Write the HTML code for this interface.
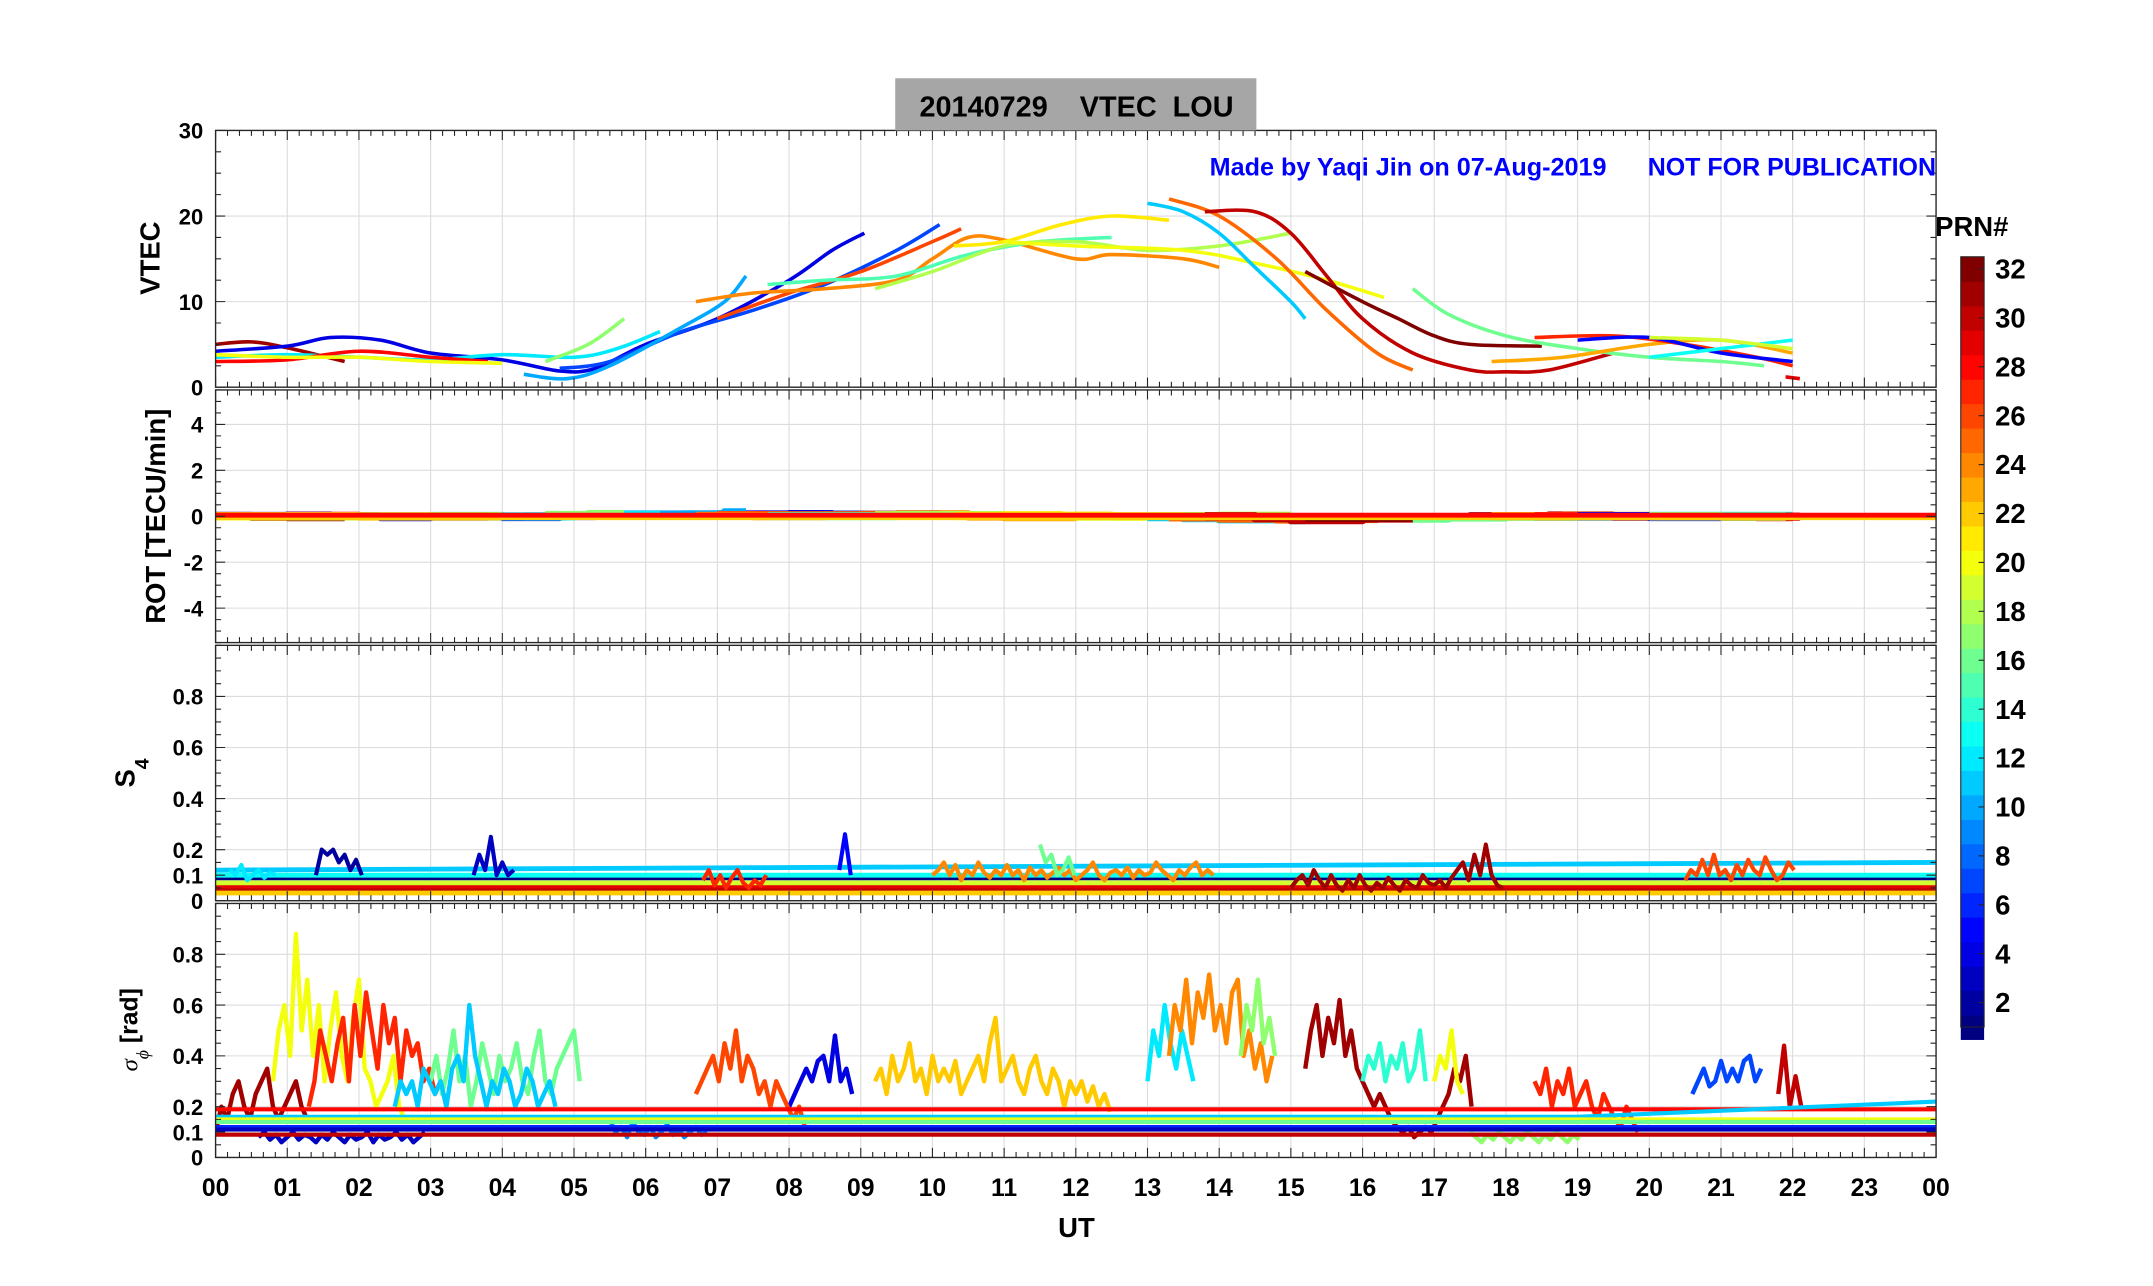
<!DOCTYPE html>
<html><head><meta charset="utf-8"><style>
html,body{margin:0;padding:0;background:#fff;}
svg{display:block;}
text{font-family:"Liberation Sans",sans-serif;font-weight:bold;}
</style></head><body>
<svg id="chart" width="2153" height="1286" viewBox="0 0 1568 936.6" preserveAspectRatio="none" xmlns="http://www.w3.org/2000/svg">
<rect x="0" y="0" width="1568" height="936.6" fill="#fff"/>
<defs>
<clipPath id="c1"><rect x="157" y="95" width="1253" height="187"/></clipPath>
<clipPath id="c2"><rect x="157" y="284" width="1253" height="184"/></clipPath>
<clipPath id="c3"><rect x="157" y="470" width="1253" height="186"/></clipPath>
<clipPath id="c4"><rect x="157" y="658" width="1253" height="185"/></clipPath>
</defs>
<g id="grids"></g>
<g id="marks"></g>
<g id="frames"></g>
<rect x="652" y="57" width="263" height="38" fill="#a6a6a6"/>
<text x="784" y="85" font-size="21" text-anchor="middle" xml:space="preserve">20140729    VTEC  LOU</text>
<text x="881" y="128" font-size="18" fill="#0000ff" textLength="289" lengthAdjust="spacingAndGlyphs">Made by Yaqi Jin on 07-Aug-2019</text>
<text x="1200" y="128" font-size="18" fill="#0000ff" textLength="210" lengthAdjust="spacingAndGlyphs">NOT FOR PUBLICATION</text>
<text x="784" y="901" font-size="20" text-anchor="middle">UT</text>
<text transform="translate(116,188) rotate(-90)" font-size="20" text-anchor="middle">VTEC</text>
<text transform="translate(120,376) rotate(-90)" font-size="20" text-anchor="middle">ROT [TECU/min]</text>
<text transform="translate(98,563) rotate(-90)" font-size="20" text-anchor="middle">S<tspan font-size="14" dy="10">4</tspan></text>
<text transform="translate(100,750) rotate(-90)" font-size="18" text-anchor="middle"><tspan font-style="italic" font-weight="normal" font-family="Liberation Serif,serif">σ</tspan><tspan font-size="13" dy="8" font-style="italic" font-weight="normal" font-family="Liberation Serif,serif">ϕ</tspan><tspan dy="-8"> [rad]</tspan></text>
<text x="1436" y="172" font-size="20" text-anchor="middle">PRN#</text>
<g id="cbar"></g>
</svg>
<script>
// ---------- data ----------
const hours = [0,1,2,3,4,5,6,7,8,9,10,11,12,13,14,15,16,17,18,19,20,21,22,23,24];
const hourLabels = ["00","01","02","03","04","05","06","07","08","09","10","11","12","13","14","15","16","17","18","19","20","21","22","23","00"];
const vtecTicks = [0,10,20,30];
const rotTicks = [-4,-2,0,2,4];
const s4Ticks = [0,0.1,0.2,0.4,0.6,0.8];
const sigTicks = [0,0.1,0.2,0.4,0.6,0.8];
const cbarTicks = [2,4,6,8,10,12,14,16,18,20,22,24,26,28,30,32];

// VTEC arcs: PRN and [hour, TECU] points
const vtecPrn = [31,4,7,10,12,17,26,24,15,18,21,20,11,25,30,32,16,23,27,5,13,19,29,28,20];
const vtecPts = [
 [[0,5],[0.5,5.3],[1,4.6],[1.8,3]],
 [[0,4.2],[1,4.8],[1.6,5.8],[2.3,5.5],[3,4],[4,3.2],[4.8,1.9],[5.3,2.2],[6,5],[7,8],[8,12.5],[8.6,16],[9.05,18]],
 [[4.8,2.2],[5.5,3],[6.5,6.5],[7.5,9],[8.5,12],[9.5,16],[10.1,19]],
 [[4.3,1.5],[4.9,1],[5.5,2.5],[6.5,7],[7.1,10],[7.4,13]],
 [[0,3.5],[1,3.8],[2,3.5],[3,3.2],[4,3.8],[5,3.5],[5.6,4.5],[6.2,6.5]],
 [[4.6,3],[5.2,5],[5.7,8]],
 [[7,8],[8,11],[9,13.5],[10,17],[10.4,18.5]],
 [[6.7,10],[7.5,11],[8.5,11.5],[9.5,12.5],[10,15],[10.5,17.5],[11,17.2],[12,15],[12.5,15.5],[13.5,15],[14,14]],
 [[7.7,12],[8.5,12.5],[9.5,13],[10.5,15.5],[11.5,17],[12.5,17.5]],
 [[9.2,11.5],[10,13.5],[11,16.5],[12,17],[13,16],[14,16.5],[15,18]],
 [[10.3,16.5],[11,17],[11.8,19],[12.5,20],[13.3,19.5]],
 [[11,17],[12,16.5],[13.5,16],[14.5,14.5],[15.5,12.5],[16.3,10.5]],
 [[13,21.5],[13.5,20.5],[14,18],[14.5,14],[15,10],[15.2,8]],
 [[13.3,22],[14,20],[14.8,15],[15.5,9],[16.2,4],[16.7,2]],
 [[13.8,20.5],[14.5,20.5],[15,18],[15.5,13],[16,8],[16.7,4],[17.5,2],[18,1.8],[18.6,2],[19.5,4]],
 [[15.2,13.5],[16,10],[16.5,8],[17,6],[17.5,5],[18.5,4.8]],
 [[16.7,11.5],[17.2,8.5],[18,6],[19,4.5],[20,3.5],[21,3],[21.6,2.5]],
 [[17.8,3],[18.8,3.5],[20,5],[21,5.5],[22,4]],
 [[18.4,5.8],[19.5,6],[20.5,5],[21.5,3.5],[22,2.5]],
 [[19,5.5],[20,5.8],[21,4],[22,3]],
 [[20,3.5],[21,4.5],[22,5.5]],
 [[20,5.8],[21,5.5],[22,4.5]],
 [[21.9,1.2],[22.1,1]],
 [[0,3],[1,3.2],[2,4.2],[3,3.5],[3.8,3]],
 [[0,3.8],[1,3.5],[2,3.5],[3,3],[4,2.8]]
];

// S4 flat baselines
const s4BasePrn = [11,1,28,29,19,13,30,22];
const s4BaseVal = [0.12,0.09,0.05,0.06,0.07,0.1,0.04,0.03];
// S4 active arcs: PRN, start hour, values every 0.08 h
const s4ArcPrn = [2,3,5,24,31,26,16,12,27];
const s4ArcStart = [1.4,3.6,8.7,10,15,20.5,11.5,0.2,6.8];
const s4ArcVals = [
 [0.1,0.2,0.18,0.2,0.15,0.18,0.12,0.16,0.1],
 [0.1,0.18,0.12,0.25,0.1,0.15,0.1,0.12],
 [0.12,0.26,0.1],
 [0.1,0.12,0.15,0.1,0.14,0.08,0.12,0.1,0.15,0.11,0.09,0.12,0.1,0.14,0.1,0.12,0.08,0.13,0.1,0.12,0.09,0.11,0.13,0.1,0.12,0.08,0.1,0.12,0.15,0.1,0.08,0.11,0.12,0.1,0.13,0.09,0.12,0.1,0.11,0.15,0.12,0.1,0.08,0.12,0.1,0.13,0.15,0.1,0.12,0.1],
 [0.05,0.08,0.1,0.06,0.12,0.08,0.05,0.1,0.06,0.04,0.08,0.05,0.1,0.06,0.04,0.07,0.05,0.09,0.06,0.04,0.08,0.06,0.05,0.1,0.07,0.06,0.08,0.05,0.09,0.12,0.15,0.08,0.18,0.1,0.22,0.1,0.06,0.05],
 [0.08,0.12,0.1,0.16,0.1,0.18,0.1,0.12,0.08,0.14,0.1,0.16,0.12,0.1,0.17,0.12,0.08,0.1,0.15,0.12],
 [0.22,0.15,0.18,0.1,0.12,0.17,0.1],
 [0.12,0.1,0.14,0.08,0.1,0.12,0.09,0.11,0.1],
 [0.08,0.12,0.06,0.1,0.05,0.09,0.12,0.07,0.05,0.08,0.06,0.1]
];

// sigma-phi flat baselines
const sigBasePrn = [28,30,11,6,20,16,3];
const sigBaseStart = [0.19,0.09,0.16,0.12,0.15,0.14,0.11];
const sigBaseEnd = [0.19,0.09,0.22,0.12,0.15,0.14,0.11];
// sigma-phi active arcs
const sigArcPrn = [20,27,16,11,31,4,26,22,12,24,17,31,14,20,27,7,30,3,9,17];
const sigArcStart = [0.8,1.3,3,2.5,0,8,6.7,9.2,13,13.3,14.3,15.2,16,17,18.4,20.6,21.8,0.6,5.5,17.5];
const sigArcVals = [
 [0.3,0.5,0.6,0.4,0.88,0.5,0.7,0.4,0.6,0.3,0.5,0.65,0.4,0.3,0.55,0.7,0.35,0.3,0.2,0.25,0.3,0.4,0.2,0.15],
 [0.2,0.3,0.5,0.4,0.3,0.45,0.55,0.3,0.6,0.4,0.65,0.5,0.35,0.6,0.45,0.55,0.3,0.5,0.4,0.45,0.3,0.35,0.25,0.3,0.2],
 [0.3,0.4,0.25,0.35,0.5,0.3,0.4,0.2,0.3,0.45,0.35,0.25,0.4,0.3,0.35,0.45,0.3,0.25,0.4,0.5,0.3,0.25,0.35,0.4,0.45,0.5,0.3],
 [0.2,0.3,0.25,0.3,0.2,0.35,0.3,0.25,0.3,0.2,0.35,0.4,0.3,0.6,0.4,0.3,0.2,0.3,0.25,0.35,0.3,0.2,0.25,0.35,0.3,0.2,0.25,0.3,0.2],
 [0.1,0.2,0.15,0.25,0.3,0.2,0.15,0.25,0.3,0.35,0.2,0.15,0.2,0.25,0.3,0.2,0.15],
 [0.2,0.25,0.3,0.35,0.3,0.38,0.4,0.3,0.48,0.3,0.35,0.25],
 [0.25,0.3,0.35,0.4,0.3,0.45,0.35,0.5,0.3,0.4,0.35,0.25,0.3,0.2,0.3,0.25,0.2,0.15,0.2,0.12],
 [0.3,0.35,0.25,0.4,0.3,0.35,0.45,0.3,0.35,0.25,0.4,0.3,0.35,0.3,0.38,0.25,0.3,0.35,0.4,0.3,0.45,0.55,0.3,0.35,0.4,0.3,0.25,0.35,0.4,0.3,0.25,0.35,0.3,0.2,0.3,0.25,0.3,0.22,0.28,0.2,0.25,0.18],
 [0.3,0.5,0.4,0.6,0.45,0.35,0.5,0.4,0.3],
 [0.4,0.6,0.5,0.7,0.45,0.65,0.55,0.72,0.5,0.6,0.45,0.65,0.7,0.4,0.5,0.35,0.45,0.3,0.4],
 [0.4,0.6,0.5,0.7,0.45,0.55,0.4],
 [0.35,0.5,0.6,0.4,0.55,0.45,0.62,0.4,0.5,0.35,0.3,0.25,0.2,0.25,0.2,0.15,0.12,0.1,0.12,0.08,0.1,0.12,0.1,0.15,0.2,0.25,0.35,0.3,0.4,0.2],
 [0.3,0.4,0.35,0.45,0.3,0.4,0.35,0.45,0.3,0.35,0.5,0.3],
 [0.3,0.4,0.35,0.5,0.3,0.25],
 [0.3,0.25,0.35,0.2,0.3,0.25,0.35,0.2,0.25,0.3,0.2,0.15,0.25,0.2,0.15,0.12,0.2,0.15,0.1],
 [0.25,0.3,0.35,0.28,0.3,0.38,0.3,0.35,0.3,0.38,0.4,0.3,0.35],
 [0.25,0.44,0.2,0.32,0.2],
 [0.08,0.1,0.07,0.09,0.06,0.08,0.1,0.07,0.09,0.08,0.06,0.09,0.07,0.1,0.08,0.06,0.09,0.07,0.08,0.1,0.06,0.09,0.07,0.08,0.1,0.07,0.09,0.06,0.08,0.1],
 [0.15,0.1,0.12,0.08,0.14,0.1,0.09,0.12,0.08,0.1,0.13,0.09,0.11,0.08,0.1,0.12,0.09,0.1],
 [0.1,0.08,0.06,0.09,0.07,0.1,0.08,0.06,0.09,0.07,0.1,0.08,0.06,0.09,0.07,0.1,0.08,0.06,0.09,0.07]
];

// ---------- drawing ----------
const NS = "http://www.w3.org/2000/svg";
const X0 = 157, X1 = 1410;
const panels = [
 {top:95, bot:282, min:0, max:30, ticks:vtecTicks, labels:["0","10","20","30"], clip:"c1", name:"vtec-panel", minor:2.5},
 {top:284, bot:468, min:-5.5, max:5.5, ticks:rotTicks, labels:["-4","-2","0","2","4"], clip:"c2", name:"rot-panel", minor:0.5},
 {top:470, bot:656, min:0, max:1, ticks:s4Ticks, labels:["0","0.1","0.2","0.4","0.6","0.8"], clip:"c3", name:"s4-panel", minor:0.05},
 {top:658, bot:843, min:0, max:1, ticks:sigTicks, labels:["0","0.1","0.2","0.4","0.6","0.8"], clip:"c4", name:"sigma-panel", minor:0.05}
];
function xs(h){ return X0 + (h/24)*(X1-X0); }
function ys(p,v){ return p.bot - (v-p.min)/(p.max-p.min)*(p.bot-p.top); }
function clamp(v){ return Math.max(0,Math.min(1,v)); }
function jet(prn){
  const t=(prn-1)/31;
  const r=clamp(1.5-Math.abs(4*t-3)), g=clamp(1.5-Math.abs(4*t-2)), b=clamp(1.5-Math.abs(4*t-1));
  return "rgb("+Math.round(r*255)+","+Math.round(g*255)+","+Math.round(b*255)+")";
}
function mk(tag, attrs, parent){
  const e=document.createElementNS(NS,tag);
  for(const k in attrs) e.setAttribute(k,attrs[k]);
  parent.appendChild(e); return e;
}
const grids=document.getElementById("grids"), marks=document.getElementById("marks"), frames=document.getElementById("frames");

panels.forEach((p,pi)=>{
  hours.forEach(h=>{
    const gl=mk("line",{x1:xs(h),x2:xs(h),y1:p.top,y2:p.bot,stroke:"#dcdcdc","stroke-width":0.8},grids);
    
    
  });
  p.ticks.forEach((v,i)=>{
    const y=ys(p,v);
    const gl=mk("line",{x1:X0,x2:X1,y1:y,y2:y,stroke:"#dcdcdc","stroke-width":0.8},grids);
    
    
    const t=mk("text",{x:148,y:y+6,"font-size":16,"text-anchor":"end"},frames);
    t.textContent=p.labels[i];
    
    
  });
  const fr=mk("rect",{x:X0,y:p.top,width:X1-X0,height:p.bot-p.top,fill:"none",stroke:"#262626","stroke-width":1},frames);
  
  
  let d="";
  for(let m=0;m<=144;m++){
    const x=xs(m/6), L=(m%6===0)?7:4;
    d+="M"+x+" "+p.bot+"v-"+L+"M"+x+" "+p.top+"v"+L;
  }
  for(let v=p.min;v<=p.max+1e-9;v+=p.minor){
    const y=ys(p,v);
    d+="M"+X0+" "+y+"h4M"+X1+" "+y+"h-4";
  }
  p.ticks.forEach(v=>{const y=ys(p,v); d+="M"+X0+" "+y+"h7M"+X1+" "+y+"h-7";});
  const tk=mk("path",{d:d,stroke:"#262626","stroke-width":0.8,fill:"none"},frames);
  
  
});
hours.forEach((h,i)=>{
  const t=mk("text",{x:xs(h),y:871,"font-size":18,"text-anchor":"middle"},frames);
  t.textContent=hourLabels[i];
  
  
});

function polyline(p, pts, color, width, name){
  const g=mk("polyline",{points:pts.map(q=>xs(q[0]).toFixed(1)+","+ys(p,q[1]).toFixed(1)).join(" "),fill:"none",stroke:color,"stroke-width":width,"stroke-linejoin":"round","clip-path":"url(#"+p.clip+")"},marks);
  
  
  return g;
}
function smoothPath(p, pts, color, width, name){
  const P=pts.map(q=>[xs(q[0]),ys(p,q[1])]);
  let d="M"+P[0][0].toFixed(1)+" "+P[0][1].toFixed(1);
  for(let i=0;i<P.length-1;i++){
    const p0=P[Math.max(0,i-1)], p1=P[i], p2=P[i+1], p3=P[Math.min(P.length-1,i+2)];
    const c1=[p1[0]+(p2[0]-p0[0])/6, p1[1]+(p2[1]-p0[1])/6];
    const c2=[p2[0]-(p3[0]-p1[0])/6, p2[1]-(p3[1]-p1[1])/6];
    d+="C"+c1[0].toFixed(1)+" "+c1[1].toFixed(1)+" "+c2[0].toFixed(1)+" "+c2[1].toFixed(1)+" "+p2[0].toFixed(1)+" "+p2[1].toFixed(1);
  }
  const g=mk("path",{d:d,fill:"none",stroke:color,"stroke-width":width,"clip-path":"url(#"+p.clip+")"},marks);
  
  
}
vtecPts.forEach((pts,i)=>{
  smoothPath(panels[0], pts, jet(vtecPrn[i]), 2.6, 'vtec-arc-prn'+vtecPrn[i]);
  const rot=[];
  for(let k=0;k<pts.length-1;k++){
    const s=(pts[k+1][1]-pts[k][1])/((pts[k+1][0]-pts[k][0])*60);
    rot.push([pts[k][0],s]); rot.push([pts[k+1][0],s]);
  }
  if(rot.length) polyline(panels[1], rot, jet(vtecPrn[i]), 6, 'rot-arc-prn'+vtecPrn[i]);
});
polyline(panels[1], [[0,-0.08],[24,-0.08]], jet(22), 3, 'rot-baseline-2');
polyline(panels[1], [[0,0.05],[24,0.05]], jet(28), 3.5, 'rot-baseline');

s4BasePrn.forEach((prn,i)=>{
  polyline(panels[2], [[0,s4BaseVal[i]],[24,s4BaseVal[i]+(prn===11?0.03:0)]], jet(prn), 3.5, 's4-baseline-prn'+prn);
});
s4ArcVals.forEach((vals,i)=>{
  polyline(panels[2], vals.map((v,k)=>[s4ArcStart[i]+k*0.08,v]), jet(s4ArcPrn[i]), 3, 's4-arc-prn'+s4ArcPrn[i]);
});
sigArcVals.forEach((vals,i)=>{
  polyline(panels[3], vals.map((v,k)=>[sigArcStart[i]+k*0.08,v]), jet(sigArcPrn[i]), 3.2, 'sigma-arc-prn'+sigArcPrn[i]);
});
sigBasePrn.forEach((prn,i)=>{
  polyline(panels[3], [[0,sigBaseStart[i]],[19,sigBaseStart[i]],[24,sigBaseEnd[i]]], jet(prn), 3, 'sigma-baseline-prn'+prn);
});

// colorbar
const cb=document.getElementById("cbar");
const CT=187, CB=748, CX=1428, CW=17;
function cy(v){ return CB-(v-1)*(CB-CT)/31.5; }
for(let p=1;p<=32;p++){
  const r=mk("rect",{x:CX,y:cy(p+0.5),width:CW,height:cy(p-0.5)-cy(p+0.5)+0.5,fill:jet(p)},cb);
  
  
}
const cf=mk("rect",{x:CX,y:CT,width:CW,height:CB-CT,fill:"none",stroke:"#262626","stroke-width":0.8},cb);


cbarTicks.forEach(v=>{
  const y=cy(v);
  mk("line",{x1:CX+CW-4,x2:CX+CW,y1:y,y2:y,stroke:"#262626","stroke-width":0.8},cb);
  const t=mk("text",{x:1453,y:y+7,"font-size":20},cb);
  t.textContent=v;
  
  
});
</script>
</body></html>
